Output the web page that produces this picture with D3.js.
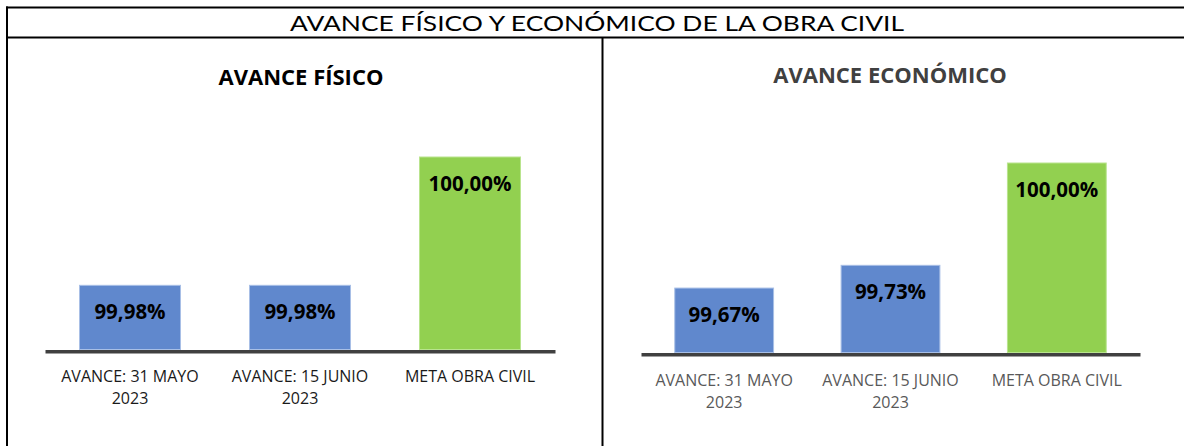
<!DOCTYPE html>
<html>
<head>
<meta charset="utf-8">
<script src="https://cdn.jsdelivr.net/npm/d3@7"></script>
<style>
  html, body { margin: 0; padding: 0; background: #fff; }
  svg { display: block; }
</style>
</head>
<body>
<svg id="chart" width="1184" height="446"></svg>
<script>
const mainTitle = "AVANCE FÍSICO Y ECONÓMICO DE LA OBRA CIVIL";
const categories = ["AVANCE: 31 MAYO|2023", "AVANCE: 15 JUNIO|2023", "META OBRA CIVIL"];
const fisicoTitle = "AVANCE FÍSICO";
const fisicoValues = [99.98, 99.98, 100.00];
const fisicoDomain = [99.97, 100];
const economicoTitle = "AVANCE ECONÓMICO";
const economicoValues = [99.67, 99.73, 100.00];
const economicoDomain = [99.5, 100];
const barColors = ["#6088cd", "#6088cd", "#92d050"];
const barStrokes = ["#a8bfe6", "#a8bfe6", "#b9e48e"];

const svg = d3.select("#chart");
const fmt = v => v.toFixed(2).replace(".", ",") + "%";

// frame
const frame = svg.append("g").attr("stroke", "#000").attr("stroke-width", 2);
frame.append("line").attr("x1", 6).attr("x2", 1184).attr("y1", 7.5).attr("y2", 7.5);
frame.append("line").attr("x1", 6).attr("x2", 1184).attr("y1", 37.5).attr("y2", 37.5);
frame.append("line").attr("x1", 7).attr("x2", 7).attr("y1", 6.5).attr("y2", 446);
frame.append("line").attr("x1", 602.5).attr("x2", 602.5).attr("y1", 37.5).attr("y2", 446);

svg.append("text")
  .attr("x", 597).attr("y", 31)
  .attr("text-anchor", "middle")
  .attr("textLength", 614).attr("lengthAdjust", "spacingAndGlyphs")
  .style("font-family", "Lato, 'DejaVu Sans', sans-serif")
  .style("font-size", "22px")
  .style("fill", "#000")
  .text(mainTitle);

function panel(opts) {
  const g = svg.append("g");
  g.append("text")
    .attr("x", opts.titleX).attr("y", opts.titleY)
    .attr("text-anchor", "middle")
    .style("font-family", "'Open Sans', 'Noto Sans', sans-serif")
    .style("font-weight", "bold")
    .style("font-size", "22px")
    .style("fill", opts.titleColor)
    .text(opts.title);

  const x = d3.scaleBand().domain(categories).range(opts.xRange)
    .paddingInner(0.4).paddingOuter(0.2);
  const y = d3.scaleLinear().domain(opts.domain).range([opts.base, opts.top]);

  g.selectAll("rect.bar").data(opts.values).join("rect")
    .attr("class", "bar")
    .attr("x", (d, i) => x(categories[i]) + 0.5)
    .attr("width", x.bandwidth() - 1)
    .attr("y", d => y(d))
    .attr("height", d => opts.base - y(d))
    .attr("fill", (d, i) => barColors[i])
    .attr("stroke", (d, i) => barStrokes[i])
    .attr("stroke-width", 1);

  g.selectAll("text.val").data(opts.values).join("text")
    .attr("class", "val")
    .attr("x", (d, i) => x(categories[i]) + x.bandwidth() / 2)
    .attr("y", d => y(d) + 34)
    .attr("text-anchor", "middle")
    .style("font-family", "'Open Sans', 'Noto Sans', sans-serif")
    .style("font-weight", "bold")
    .style("font-size", "20.5px")
    .style("fill", "#000")
    .text(d => fmt(d));

  // baseline axis
  const axis = d3.axisBottom(x).tickSize(0).tickFormat("");
  const ax = g.append("g").attr("transform", `translate(0,${opts.base + 1.8})`).call(axis);
  ax.select(".domain").attr("stroke", "#404040").attr("stroke-width", 3.6);

  categories.forEach((c, i) => {
    const lines = c.split("|");
    const t = g.append("text")
      .attr("x", x(c) + x.bandwidth() / 2)
      .attr("y", opts.labelY)
      .attr("text-anchor", "middle")
      .style("font-family", "'Open Sans', 'Noto Sans', sans-serif")
      .style("font-size", "16px")
      .style("fill", opts.labelColor);
    lines.forEach((l, j) => {
      t.append("tspan").attr("x", x(c) + x.bandwidth() / 2).attr("dy", j === 0 ? 0 : 22).text(l);
    });
  });
}

panel({
  title: fisicoTitle, titleX: 301, titleY: 85, titleColor: "#000",
  values: fisicoValues, domain: fisicoDomain,
  xRange: [45, 555], base: 349.5, top: 157,
  labelY: 382, labelColor: "#1a1a1a"
});

panel({
  title: economicoTitle, titleX: 890, titleY: 83, titleColor: "#404040",
  values: economicoValues, domain: economicoDomain,
  xRange: [641, 1140], base: 352.5, top: 163,
  labelY: 386, labelColor: "#595959"
});
</script>
</body>
</html>
